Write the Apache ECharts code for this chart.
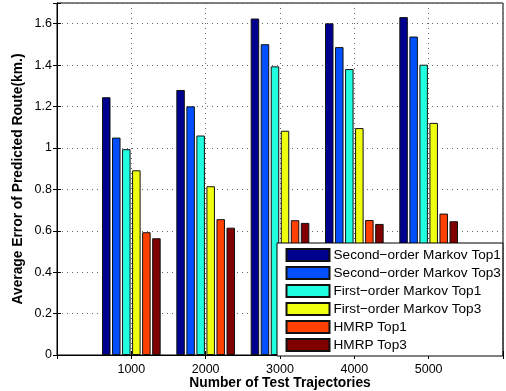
<!DOCTYPE html>
<html>
<head>
<meta charset="utf-8">
<script src="https://cdn.jsdelivr.net/npm/echarts@6/dist/echarts.min.js"></script>
<style>html,body{margin:0;padding:0;background:#fff;}#c{width:506px;height:391px;}</style>
</head>
<body>
<div id="c"></div>
<script>
const categories = [1000, 2000, 3000, 4000, 5000];
const seriesNames = ['Second\u2212order Markov Top1', 'Second\u2212order Markov Top3', 'First\u2212order Markov Top1', 'First\u2212order Markov Top3', 'HMRP Top1', 'HMRP Top3'];
const secondTop1 = [1.245, 1.28, 1.625, 1.602, 1.632];
const secondTop3 = [1.05, 1.201, 1.501, 1.487, 1.538];
const firstTop1 = [0.994, 1.06, 1.394, 1.381, 1.402];
const firstTop3 = [0.892, 0.815, 1.083, 1.096, 1.121];
const hmrpTop1 = [0.593, 0.656, 0.651, 0.652, 0.683];
const hmrpTop3 = [0.564, 0.615, 0.638, 0.633, 0.646];
const yTicks = [0, 0.2, 0.4, 0.6, 0.8, 1, 1.2, 1.4, 1.6];
const colors = ['#00008F', '#0050FF', '#20FFDF', '#F0FF10', '#FF4000', '#800000'];

const values = [secondTop1, secondTop3, firstTop1, firstTop3, hmrpTop1, hmrpTop3];
const font = 'Liberation Sans, Arial, Helvetica, sans-serif';
const chart = echarts.init(document.getElementById('c'), null, {renderer: 'canvas'});
const dotted = {show: true, lineStyle: {color: '#666', width: 1, type: [1, 4]}};
chart.setOption({
  animation: false,
  color: colors,
  grid: {left: 57, right: 3, top: 3, bottom: 36, outerBoundsMode: 'none', containLabel: false,
    show: true, borderColor: '#000', borderWidth: 1, backgroundColor: 'transparent'},
  legend: {
    orient: 'vertical', left: 277, top: 243,
    padding: [5, 2, 4, 8.5],
    itemWidth: 43, itemHeight: 12, itemGap: 4,
    backgroundColor: '#fff', borderColor: '#000', borderWidth: 1,
    icon: 'rect',
    textStyle: {fontFamily: font, fontSize: 13.6, color: '#000', lineHeight: 12, padding: [0, 0, 0, -1]},
    data: seriesNames
  },
  xAxis: [{
    type: 'value', min: 0, max: 6000, interval: 1000,
    name: 'Number of Test Trajectories', nameLocation: 'middle', nameGap: 21, nameMoveOverlap: false,
    nameTextStyle: {fontFamily: font, fontSize: 13.8, fontWeight: 'bold', color: '#000'},
    axisLine: {show: true, lineStyle: {color: '#000'}},
    axisTick: {show: true, inside: true, length: 4, lineStyle: {color: '#000'}},
    axisLabel: {fontFamily: font, fontSize: 12.5, color: '#000', margin: 8,
      formatter: v => (categories.indexOf(v) >= 0 ? String(v) : '')},
    splitLine: dotted
  }, {
    type: 'value', position: 'top', min: 0, max: 6000, interval: 1000,
    axisLine: {show: true, lineStyle: {color: '#000'}},
    axisTick: {show: true, inside: true, length: 4, lineStyle: {color: '#000'}},
    axisLabel: {show: false}, splitLine: {show: false}
  }],
  yAxis: [{
    type: 'value', min: 0, max: 1.7, interval: 0.2,
    name: 'Average Error of Predicted Route(km.)', nameLocation: 'middle', nameGap: 32, nameMoveOverlap: false,
    nameTextStyle: {fontFamily: font, fontSize: 13.8, fontWeight: 'bold', color: '#000'},
    axisLine: {show: true, lineStyle: {color: '#000'}},
    axisTick: {show: true, inside: true, length: 4, lineStyle: {color: '#000'}},
    axisLabel: {fontFamily: font, fontSize: 12.5, color: '#000', margin: 5,
      formatter: v => (yTicks.some(t => Math.abs(t - v) < 1e-6) ? String(Math.round(v * 10) / 10) : '')},
    splitLine: dotted
  }, {
    type: 'value', position: 'right', min: 0, max: 1.7, interval: 0.2,
    axisLine: {show: true, lineStyle: {color: '#000'}},
    axisTick: {show: true, inside: true, length: 4, lineStyle: {color: '#000'}},
    axisLabel: {show: false}, splitLine: {show: false}
  }],
  series: seriesNames.map((name, i) => ({
    name: name, type: 'bar', xAxisIndex: 0, yAxisIndex: 0,
    barWidth: 8.5, barGap: '18%',
    itemStyle: {color: colors[i], borderColor: '#111', borderWidth: 1},
    data: categories.map((c, j) => [c, values[i][j]])
  }))
});
</script>
</body>
</html>
